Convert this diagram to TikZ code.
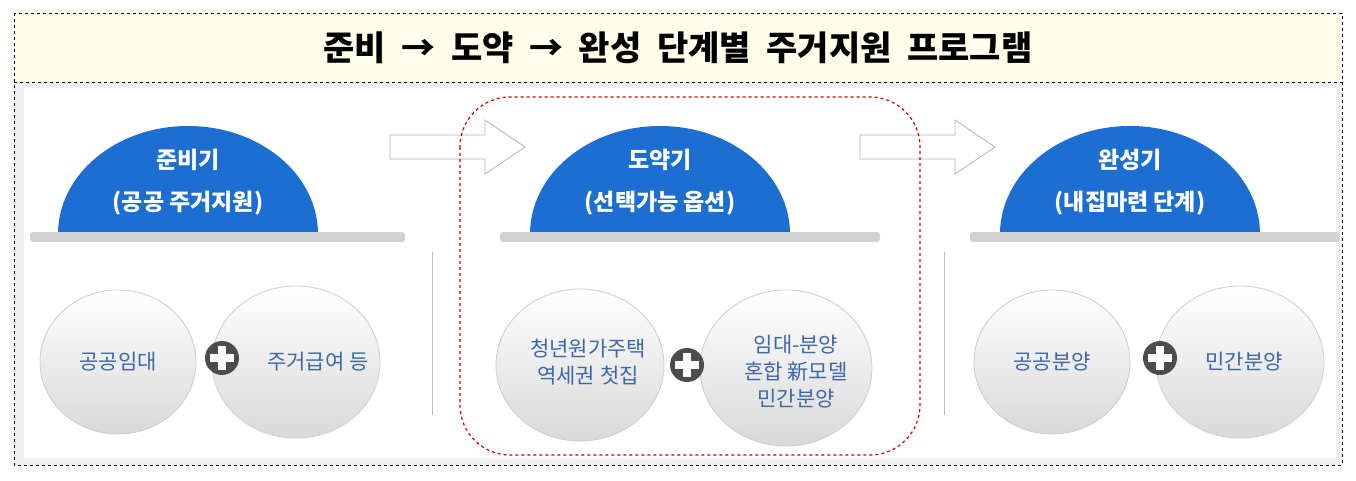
\documentclass[tikz,border=0pt]{standalone}
\usepackage{fontspec}
\setmainfont{Noto Sans CJK KR}
\definecolor{domeblue}{HTML}{1C6FD0}
\definecolor{txtblue}{HTML}{3D68A8}
\begin{document}
\begin{tikzpicture}[x=1pt,y=-1pt,
 dome/.style={fill=domeblue},
 shelf/.style={fill=gray!35},
 bub/.style={draw=gray!40,top color=white,bottom color=gray!30,line width=0.8pt},
 btxt/.style={text=txtblue,font=\fontsize{21}{27}\selectfont,align=center},
 dtxt/.style={text=white,font=\fontsize{23}{42}\selectfont\bfseries,align=center},
 plus/.style={circle,fill=black!70,minimum size=34pt,inner sep=0pt},
 harrow/.style={draw=gray!60,fill=white,line width=0.8pt}]
\useasboundingbox (0,0) rectangle (1356,481);
\fill[white] (0,0) rectangle (1356,481);
\fill[yellow!8] (14,13) rectangle (1342,82);
\fill[gray!12] (14,82) rectangle (1342,465);
\fill[white] (24,88) rectangle (1336,458);
\draw[dashed,line width=0.8pt] (14,13) rectangle (1342,465);
\draw[dashed,line width=0.8pt] (14,82) -- (1342,82);
\node (title) at (678,48) {\fontsize{34}{40}\selectfont\bfseries 준비\ \ →\ \ 도약\ \ →\ \ 완성\ \ 단계별\ \ 주거지원\ \ 프로그램};
% arrows
\foreach \ax in {390,860}{
 \draw[harrow] (\ax,135) -- (\ax+95,135) -- (\ax+95,120) -- (\ax+135,147) -- (\ax+95,174) -- (\ax+95,159) -- (\ax,159) -- cycle;}
% red frame
\draw[red!80!black,dashed,line width=1.2pt,rounded corners=50pt] (460,97) rectangle (920,455);
% panels
\foreach \cx/\sl/\sr in {188/30/405, 660/500/880, 1130/970/1340}{
 \fill[dome] (\cx-130,234) arc[start angle=180,end angle=360,x radius=130,y radius=108] -- cycle;
 \fill[shelf,rounded corners=3pt] (\sl,232) rectangle (\sr,242);
}
\draw[gray!50] (432,252) -- (432,415);
\draw[gray!50] (944,252) -- (944,415);
\node[dtxt] (d1) at (188,182) {준비기\\(공공 주거지원)};
\node[dtxt] (d2) at (660,182) {도약기\\(선택가능 옵션)};
\node[dtxt] (d3) at (1130,182) {완성기\\(내집마련 단계)};
% bubbles
\draw[bub] (118,362) ellipse[x radius=78,y radius=72];
\draw[bub] (296,362) ellipse[x radius=84,y radius=76];
\draw[bub] (580,365) ellipse[x radius=84,y radius=76];
\draw[bub] (786,368) ellipse[x radius=86,y radius=78];
\draw[bub] (1052,362) ellipse[x radius=78,y radius=72];
\draw[bub] (1240,362) ellipse[x radius=84,y radius=76];
\node[btxt] (b1) at (118,362) {공공임대};
\node[btxt] (b2) at (318,362) {주거급여 등};
\node[btxt] (b3) at (588,362) {청년원가주택\\역세권 첫집};
\node[btxt] (b4) at (796,372) {임대-분양\\혼합 新모델\\민간분양};
\node[btxt] (b5) at (1052,362) {공공분양};
\node[btxt] (b6) at (1244,362) {민간분양};
\foreach \px/\py/\n in {222/358/p1, 687/365/p2, 1160/358/p3}{
 \node[plus] (\n) at (\px,\py) {};
 \fill[white] (\px-12,\py-4) rectangle (\px+12,\py+4);
 \fill[white] (\px-4,\py-12) rectangle (\px+4,\py+12);
}
\end{tikzpicture}
\end{document}
